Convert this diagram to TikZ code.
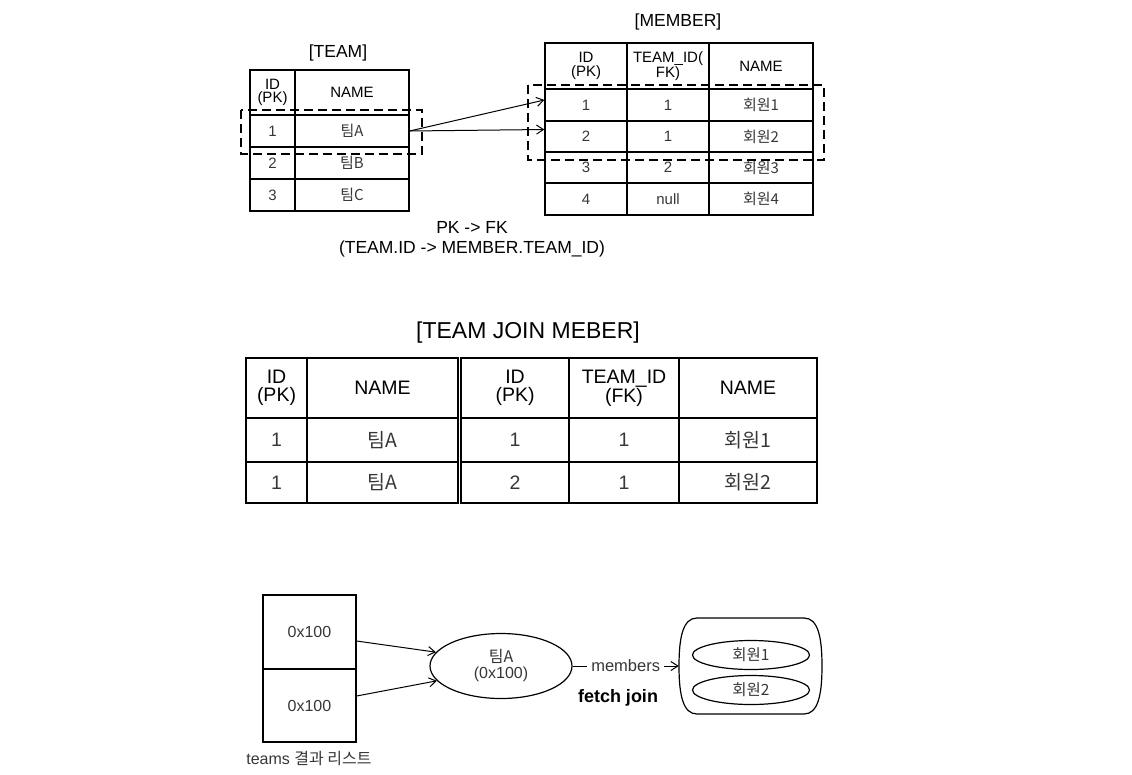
\documentclass[tikz,border=0pt]{standalone}
\usepackage{fontspec}
\setmainfont{Liberation Sans}
\newfontfamily\kr{Noto Sans CJK KR}
\usetikzlibrary{shapes.geometric,arrows.meta}
\definecolor{valcol}{RGB}{55,55,55}
\newcommand\cellbox[7][]{%
  \pgfmathsetmacro\mycx{(#3+#5)/2}\pgfmathsetmacro\mycy{(#4+#6)/2}%
  \pgfmathsetmacro\mycw{#5-#3}\pgfmathsetmacro\mych{#6-#4}%
  \node[cell,#1,minimum width=\mycw pt,minimum height=\mych pt] (#2) at (\mycx,\mycy) {#7};}
\begin{document}
\begin{tikzpicture}[x=1pt,y=-1pt,
  cell/.style={draw, line width=1.2pt, inner sep=0pt, align=center, text=black},
  small/.style={font=\fontsize{15}{13.5}\selectfont},
  big/.style={font=\fontsize{19.5}{18}\selectfont, line width=1.6pt},
  val/.style={text=valcol},
  title/.style={font=\fontsize{17.5}{18}\selectfont},
  hl/.style={line width=2.6pt, dash pattern=on 9pt off 5pt},
  arr/.style={line width=1pt, -{Straight Barb[length=7pt,width=9pt]}},
  oval/.style={draw, ellipse, line width=1.2pt, inner sep=0pt, align=center}]
\useasboundingbox (0,0) rectangle (1132,774);

% ---------- TEAM ----------
\node[title] (teamtitle) at (338,53) {[TEAM]};
\cellbox[small]{th1}{250}{70}{295}{115}{ID\\(PK)}
\cellbox[small]{th2}{295}{70}{409}{115}{NAME}
\cellbox[small,val]{t1i}{250}{115}{295}{147}{1}
\cellbox[small,val]{t1n}{295}{115}{409}{147}{{\kr 팀A}}
\cellbox[small,val]{t2i}{250}{147}{295}{179}{2}
\cellbox[small,val]{t2n}{295}{147}{409}{179}{{\kr 팀B}}
\cellbox[small,val]{t3i}{250}{179}{295}{211}{3}
\cellbox[small,val]{t3n}{295}{179}{409}{211}{{\kr 팀C}}

% ---------- MEMBER ----------
\node[title] (memtitle) at (678,22) {[MEMBER]};
\cellbox[small]{mh1}{545}{43}{627}{89}{ID\\(PK)}
\cellbox[small]{mh2}{627}{43}{709}{89}{TEAM\_ID(\\FK)}
\cellbox[small]{mh3}{709}{43}{813}{89}{NAME}
\cellbox[small,val]{m1i}{545}{89}{627}{121}{1}
\cellbox[small,val]{m1t}{627}{89}{709}{121}{1}
\cellbox[small,val]{m1n}{709}{89}{813}{121}{{\kr 회원1}}
\cellbox[small,val]{m2i}{545}{121}{627}{152}{2}
\cellbox[small,val]{m2t}{627}{121}{709}{152}{1}
\cellbox[small,val]{m2n}{709}{121}{813}{152}{{\kr 회원2}}
\cellbox[small,val]{m3i}{545}{152}{627}{183}{3}
\cellbox[small,val]{m3t}{627}{152}{709}{183}{2}
\cellbox[small,val]{m3n}{709}{152}{813}{183}{{\kr 회원3}}
\cellbox[small,val]{m4i}{545}{183}{627}{215}{4}
\cellbox[small,val]{m4t}{627}{183}{709}{215}{null}
\cellbox[small,val]{m4n}{709}{183}{813}{215}{{\kr 회원4}}

% highlight boxes
\draw[hl] (241,110) rectangle (422,154);
\draw[hl] (528,85) rectangle (824,160);

% arrows TEAM -> MEMBER
\draw[arr] (t1n.east) -- ([yshift=5pt]m1i.west);
\draw[arr] (t1n.east) -- ([yshift=7pt]m2i.west);

\node[font=\fontsize{17.5}{20}\selectfont, align=center] (pkfk) at (472,239) {PK -> FK\\(TEAM.ID -> MEMBER.TEAM\_ID)};

% ---------- JOIN ----------
\node[font=\fontsize{23}{24}\selectfont] (jointitle) at (528,333) {[TEAM JOIN MEBER]};
\cellbox[big]{jh1}{246}{358}{307}{418}{ID\\(PK)}
\cellbox[big]{jh2}{307}{358}{458}{418}{NAME}
\cellbox[big]{jh3}{461}{358}{569}{418}{ID\\(PK)}
\cellbox[big]{jh4}{569}{358}{679}{418}{TEAM\_ID\\(FK)}
\cellbox[big]{jh5}{679}{358}{817}{418}{NAME}
\cellbox[big,val]{j11}{246}{418}{307}{462}{1}
\cellbox[big,val]{j12}{307}{418}{458}{462}{{\kr 팀A}}
\cellbox[big,val]{j13}{461}{418}{569}{462}{1}
\cellbox[big,val]{j14}{569}{418}{679}{462}{1}
\cellbox[big,val]{j15}{679}{418}{817}{462}{{\kr 회원1}}
\cellbox[big,val]{j21}{246}{462}{307}{503}{1}
\cellbox[big,val]{j22}{307}{462}{458}{503}{{\kr 팀A}}
\cellbox[big,val]{j23}{461}{462}{569}{503}{2}
\cellbox[big,val]{j24}{569}{462}{679}{503}{1}
\cellbox[big,val]{j25}{679}{462}{817}{503}{{\kr 회원2}}

% ---------- objects ----------
\cellbox[font=\fontsize{16}{18}\selectfont,val]{b1}{263}{595}{356}{669}{0x100}
\cellbox[font=\fontsize{16}{18}\selectfont,val]{b2}{263}{669}{356}{742}{0x100}
\node[font=\fontsize{16}{18}\selectfont, text=valcol] (cap) at (309,759) {teams {\kr 결과 리스트}};

\node[oval, minimum width=142pt, minimum height=65pt, text=valcol,
      font=\fontsize{16}{16}\selectfont] (teamA) at (501,666) {{\kr 팀A}\\(0x100)};

\node[minimum width=143pt, minimum height=96pt, inner sep=0pt] (mbox) at (750.5,666) {};
\draw[line width=1.2pt] (697,618) -- (804,618) .. controls (818,618) and (822,637) .. (822,666)
  .. controls (822,695) and (818,714) .. (804,714) -- (697,714)
  .. controls (683,714) and (679,695) .. (679,666)
  .. controls (679,637) and (683,618) .. (697,618);
\node[oval, minimum width=117pt, minimum height=29pt, text=valcol,
      font=\fontsize{15.5}{16}\selectfont] (me1) at (751,655) {{\kr 회원1}};
\node[oval, minimum width=117pt, minimum height=29pt, text=valcol,
      font=\fontsize{15.5}{16}\selectfont] (me2) at (751,690) {{\kr 회원2}};

\draw[arr] ([yshift=-9pt]b1.east) -- (teamA.168);
\draw[arr] ([yshift=9.5pt]b2.east) -- (teamA.193);
\draw[arr] (teamA.east) -- node[fill=white, inner sep=4pt, text=valcol,
   font=\fontsize{16.5}{18}\selectfont] (memlbl) {members} (mbox.west);
\node[font=\bfseries\fontsize{18}{18}\selectfont] (fetch) at (618,698) {fetch join};
\end{tikzpicture}
\end{document}
